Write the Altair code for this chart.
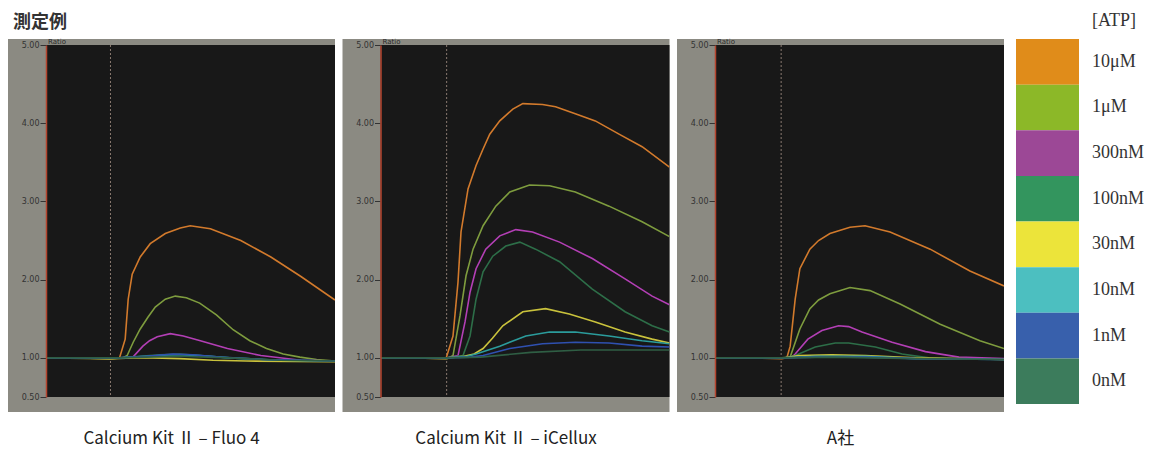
import altair as alt
import pandas as pd

TITLE = "測定例"
LEGEND_TITLE = "[ATP]"
SERIES = ["10μM", "1μM", "300nM", "100nM", "30nM", "10nM", "1nM", "0nM"]
SWATCH_COLORS = ["#e08c1a", "#8cb828", "#9c4896", "#33955e", "#ece43a", "#4cbfc0", "#3860ac", "#3c7c5c"]
TRACE_COLORS = ["#d27a2c", "#7e9c3e", "#b33fb5", "#2d6e48", "#c9c23c", "#2b9c9c", "#2f50b0", "#2f5e44"]
PANEL_NAMES = ["Calcium Kit Ⅱ – Fluo 4", "Calcium Kit Ⅱ – iCellux", "A社"]
STIM_TIMES = [19.3, 19.8, 19.8]
Y_TICKS = [0.5, 1, 2, 3, 4, 5]
X_TICKS = [0, 50]
X_DOMAIN = [0, 86.5]
Y_DOMAIN = [0.5, 5.0]

# ---- Calcium Kit II - Fluo 4 ----
FLUO4_10uM = [(0, 1.0), (10, 1.0), (19, 0.99), (22, 1.0), (23.7, 1.24), (24.6, 1.75), (25.8, 2.07), (28.2, 2.29),
              (31.2, 2.46), (35.7, 2.59), (40.2, 2.66), (43.2, 2.69), (49.2, 2.65), (58.3, 2.50), (67.3, 2.29),
              (76.3, 2.04), (86.5, 1.74)]
FLUO4_1uM = [(0, 1.0), (10, 1.0), (19, 0.99), (23, 1.0), (24.3, 1.03), (26.1, 1.2), (28.2, 1.37), (30.5, 1.52),
             (32.7, 1.65), (35.7, 1.75), (38.7, 1.79), (42, 1.77), (46, 1.70), (51, 1.55), (56, 1.36), (61, 1.22),
             (66, 1.12), (71, 1.05), (76, 1.01), (81, 0.98), (86.5, 0.96)]
FLUO4_300nM = [(0, 1.0), (22, 1.0), (26, 1.01), (29, 1.15), (31, 1.22), (33.3, 1.27), (37.2, 1.31), (41.1, 1.28),
               (46.2, 1.22), (54.3, 1.12), (64.3, 1.03), (76.3, 0.97), (86.5, 0.96)]
FLUO4_100nM = [(0, 1.0), (22, 1.0), (28, 1.02), (34, 1.04), (40, 1.05), (46, 1.03), (55, 1.0), (70, 0.97), (86.5, 0.96)]
FLUO4_30nM = [(0, 1.0), (20, 0.99), (26, 1.0), (32, 1.0), (40, 0.99), (50, 0.97), (60, 0.96), (86.5, 0.95)]
FLUO4_10nM = [(0, 1.0), (22, 1.0), (30, 1.02), (38, 1.04), (46, 1.03), (55, 1.0), (70, 0.97), (86.5, 0.96)]
FLUO4_1nM = [(0, 1.0), (22, 1.0), (30, 1.02), (38, 1.05), (44, 1.04), (52, 1.01), (65, 0.98), (86.5, 0.96)]
FLUO4_0nM = [(0, 1.0), (22, 1.0), (30, 1.01), (40, 1.02), (55, 1.0), (70, 0.97), (86.5, 0.96)]

# ---- Calcium Kit II - iCellux ----
ICELLUX_10uM = [(0, 1.0), (10, 1.0), (19.6, 0.99), (21.7, 1.28), (23.2, 1.97), (24.1, 2.61), (26.2, 3.16), (28.6, 3.46),
                (30.7, 3.67), (32.7, 3.86), (35.7, 4.03), (39.6, 4.18), (42.6, 4.25), (48.5, 4.24), (52.4, 4.21),
                (58.3, 4.12), (64.3, 4.03), (71.4, 3.86), (78.3, 3.70), (86.5, 3.44)]
ICELLUX_1uM = [(0, 1.0), (10, 1.0), (20, 0.99), (21.7, 1.03), (23.8, 1.54), (25.6, 2.05), (27.7, 2.39), (30.7, 2.69),
               (34.5, 2.94), (38.7, 3.12), (44.6, 3.21), (50.6, 3.20), (58.3, 3.12), (68.4, 2.94), (78.3, 2.74),
               (86.5, 2.55)]
ICELLUX_300nM = [(0, 1.0), (20, 1.0), (23.2, 1.03), (25.3, 1.46), (26.8, 1.84), (28.6, 2.14), (31.5, 2.39), (35.7, 2.56),
                 (40.5, 2.64), (45.5, 2.61), (53.6, 2.48), (63.4, 2.27), (73.2, 2.01), (81.3, 1.79), (86.5, 1.68)]
ICELLUX_100nM = [(0, 1.0), (20, 1.0), (24.7, 1.03), (26.8, 1.28), (28.6, 1.75), (30.7, 2.10), (33.6, 2.30), (37.5, 2.43),
                 (41.7, 2.48), (46.4, 2.39), (53.6, 2.23), (63.4, 1.88), (73.2, 1.59), (81.3, 1.41), (86.5, 1.33)]
ICELLUX_30nM = [(0, 1.0), (20, 1.0), (25, 1.02), (28, 1.05), (30.7, 1.12), (33.5, 1.25), (36.6, 1.41), (42.6, 1.59),
                (49.4, 1.63), (56.5, 1.56), (64.3, 1.46), (73.2, 1.33), (81.3, 1.24), (86.5, 1.19)]
ICELLUX_10nM = [(0, 1.0), (20, 1.0), (26, 1.02), (28.6, 1.05), (35.7, 1.15), (43.5, 1.28), (50.6, 1.33), (58.3, 1.33),
                (68.4, 1.28), (78.3, 1.22), (86.5, 1.18)]
ICELLUX_1nM = [(0, 1.0), (20, 1.0), (27, 1.01), (30.7, 1.03), (38.7, 1.12), (48.5, 1.18), (58.3, 1.20), (68.4, 1.19),
               (78.3, 1.15), (86.5, 1.14)]
ICELLUX_0nM = [(0, 1.0), (20, 1.0), (30, 1.01), (45, 1.07), (60, 1.10), (75, 1.10), (86.5, 1.10)]

# ---- A社 ----
ACO_10uM = [(0, 1.0), (10, 1.0), (20, 0.99), (21.5, 1.0), (22.5, 1.15), (24, 1.75), (25.4, 2.14), (28.4, 2.39),
            (31, 2.50), (34.4, 2.59), (40.4, 2.67), (44.9, 2.69), (52.4, 2.61), (64.4, 2.39), (76.3, 2.11), (86.5, 1.92)]
ACO_1uM = [(0, 1.0), (20, 1.0), (22.5, 1.01), (25.4, 1.37), (28.4, 1.63), (31, 1.74), (34.4, 1.82), (40.4, 1.90),
           (46.4, 1.86), (55.4, 1.69), (67.4, 1.43), (79.3, 1.22), (86.5, 1.12)]
ACO_300nM = [(0, 1.0), (21, 1.0), (23, 1.01), (24, 1.05), (27.8, 1.24), (32, 1.35), (37, 1.41), (40, 1.40), (44, 1.33),
             (53, 1.20), (63, 1.08), (73, 1.01), (86.5, 0.99)]
ACO_100nM = [(0, 1.0), (21, 1.0), (24, 1.03), (30, 1.14), (36, 1.19), (40, 1.19), (48, 1.14), (56, 1.05), (64, 1.0),
             (86.5, 0.98)]
ACO_30nM = [(0, 1.0), (21, 1.0), (25, 1.03), (35, 1.04), (45, 1.03), (60, 1.0), (86.5, 0.98)]
ACO_10nM = [(0, 1.0), (21, 1.0), (30, 1.02), (45, 1.02), (60, 0.99), (86.5, 0.98)]
ACO_1nM = [(0, 1.0), (21, 1.0), (30, 1.01), (45, 1.01), (60, 0.99), (86.5, 0.98)]
ACO_0nM = [(0, 1.0), (21, 1.0), (35, 1.01), (60, 0.99), (86.5, 0.98)]

PANELS = [
    [FLUO4_10uM, FLUO4_1uM, FLUO4_300nM, FLUO4_100nM, FLUO4_30nM, FLUO4_10nM, FLUO4_1nM, FLUO4_0nM],
    [ICELLUX_10uM, ICELLUX_1uM, ICELLUX_300nM, ICELLUX_100nM, ICELLUX_30nM, ICELLUX_10nM, ICELLUX_1nM, ICELLUX_0nM],
    [ACO_10uM, ACO_1uM, ACO_300nM, ACO_100nM, ACO_30nM, ACO_10nM, ACO_1nM, ACO_0nM],
]

W, H = 289, 352
FRAME_GRAY = "#8b8a82"
PLOT_DARK = "#181818"
ONE = pd.DataFrame({"a": [0]})


def make_panel(series_lists, name, stim, with_title):
    rows = []
    for s, pts in zip(SERIES, series_lists):
        for t, v in pts:
            rows.append({"t": t, "v": v, "s": s})
    df = pd.DataFrame(rows)

    xs = alt.Scale(domain=X_DOMAIN, nice=False, zero=False)
    ys = alt.Scale(domain=Y_DOMAIN, nice=False, zero=False)

    frame = alt.Chart(ONE).mark_rect(color=FRAME_GRAY).encode(
        x=alt.value(-38), x2=alt.value(W), y=alt.value(-6), y2=alt.value(H + 15))
    dark = alt.Chart(ONE).mark_rect(color=PLOT_DARK).encode(
        x=alt.value(0), x2=alt.value(W), y=alt.value(0), y2=alt.value(H))
    rule = alt.Chart(pd.DataFrame({"t": [stim]})).mark_rule(
        color="#8a7a70", strokeDash=[2, 2], strokeWidth=1).encode(
        x=alt.X("t:Q", scale=xs, axis=None))
    lines = alt.Chart(df).mark_line(strokeWidth=1.6, clip=True).encode(
        x=alt.X("t:Q", scale=xs, axis=alt.Axis(
            values=X_TICKS, format=".1f", labelFontSize=8, labelFont="DejaVu Sans", labelColor="#333333",
            tickColor="#333333", tickSize=3, labelPadding=0, domain=False, grid=False, title=None,
            labelFlush=False, zindex=1)),
        y=alt.Y("v:Q", scale=ys, axis=alt.Axis(
            values=Y_TICKS, format=".2f", labelFontSize=8, labelFont="DejaVu Sans", labelColor="#333333",
            tickColor="#333333", tickSize=6, labelPadding=1, domainColor="#b5452f", domainWidth=1.5,
            grid=False, title=None, labelFlush=False, zindex=1)),
        color=alt.Color("s:N", scale=alt.Scale(domain=SERIES, range=TRACE_COLORS), legend=None),
        detail="s:N",
    )
    ratio = alt.Chart(ONE).mark_text(text="Ratio", align="left", baseline="bottom", fontSize=7,
                                     font="DejaVu Sans", color="#2a2a2a").encode(
        x=alt.value(2), y=alt.value(0))
    label = alt.Chart(ONE).mark_text(text=name, fontSize=17, font="Noto Sans CJK JP", color="#222222").encode(
        x=alt.value(125.5), y=alt.value(H + 42))
    layers = [frame, dark, rule, lines, ratio, label]
    if with_title:
        title = alt.Chart(ONE).mark_text(text=TITLE, align="left", baseline="middle", fontSize=18,
                                         fontWeight="bold", font="Noto Sans CJK JP", color="#333333").encode(
            x=alt.value(-33), y=alt.value(-22))
        layers.append(title)
    return alt.layer(*layers).properties(width=W, height=H)


panels = [make_panel(PANELS[i], PANEL_NAMES[i], STIM_TIMES[i], i == 0) for i in range(3)]

leg_df = pd.DataFrame({"lab": SERIES})
band = alt.Scale(domain=SERIES, range=[-6, 359], paddingInner=0, paddingOuter=0)
swatches = alt.Chart(leg_df).mark_rect().encode(
    y=alt.Y("lab:N", sort=SERIES, scale=band, axis=None),
    x=alt.value(-33.5), x2=alt.value(29.5),
    color=alt.Color("lab:N", scale=alt.Scale(domain=SERIES, range=SWATCH_COLORS), legend=None),
)
leg_text = alt.Chart(leg_df).mark_text(align="left", baseline="middle", font="Liberation Serif",
                                       fontSize=18, color="#333333").encode(
    y=alt.Y("lab:N", sort=SERIES, scale=band, axis=None),
    x=alt.value(42.5),
    text="lab:N",
)
leg_title = alt.Chart(ONE).mark_text(text=LEGEND_TITLE, align="left", baseline="middle",
                                     font="Liberation Serif", fontSize=18, color="#333333").encode(
    x=alt.value(42.5), y=alt.value(-24))
legend = alt.layer(swatches, leg_text, leg_title).properties(width=90, height=H)

chart = alt.hconcat(*panels, legend, spacing=45.5, bounds="flush").properties(
    padding={"left": 0, "top": 4, "right": 0, "bottom": 5}).resolve_scale(
    color="independent").configure_view(stroke=None)

chart.save("out.html", embed_options={"renderer": "svg", "actions": False})
